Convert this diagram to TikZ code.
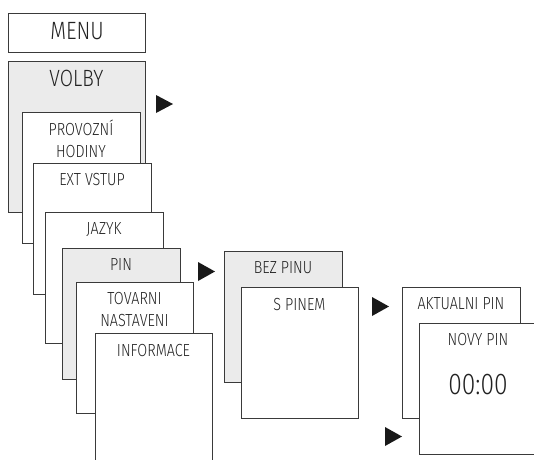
\documentclass[tikz,border=0pt]{standalone}
\usepackage{fontspec}
\setmainfont{Fira Sans Light}[FakeStretch=0.82]
\definecolor{boxline}{HTML}{3A3A3A}
\definecolor{boxgray}{HTML}{EBEBEB}
\definecolor{txt}{HTML}{222222}
\tikzset{
  menubox/.style={draw=boxline, line width=0.9pt, fill=white},
  graybox/.style={draw=boxline, line width=0.9pt, fill=boxgray},
  lbl/.style={anchor=base, text=txt, font=\fontsize{17.5}{20}\selectfont, inner sep=0pt},
  biglbl/.style={anchor=base, text=txt, font=\fontsize{25}{28}\selectfont, inner sep=0pt},
  clocklbl/.style={anchor=base, text=txt, font=\fontsize{30}{34}\selectfont, inner sep=0pt},
  tri/.style={fill=black!90, draw=none}
}
\begin{document}
\begin{tikzpicture}[x=1pt,y=-1pt]
\useasboundingbox (0,0) rectangle (534,459);
\clip (0,0) rectangle (534,459);
% MENU
\draw[menubox] (8,13) rectangle (145,52);
\node[biglbl] (menu) at (77,39) {MENU};
% VOLBY
\draw[graybox] (8,61) rectangle (145,212);
\node[biglbl, font=\fontsize{23.5}{26}\selectfont] (volby) at (76.5,86) {VOLBY};
\fill[tri] (156,95) -- (173,104) -- (156,113) -- cycle;
% PROVOZNI HODINY
\draw[menubox] (22,112) rectangle (140,243);
\node[lbl] (prov) at (81,135) {PROVOZNÍ};
\node[lbl] (hod) at (81,157) {HODINY};
% EXT VSTUP
\draw[menubox] (33,163) rectangle (151,294);
\node[lbl] (ext) at (92,185) {EXT VSTUP};
% JAZYK
\draw[menubox] (45,212) rectangle (163,343);
\node[lbl] (jaz) at (104,234) {JAZYK};
% PIN
\draw[graybox] (62,248) rectangle (180,379);
\node[lbl] (pin) at (121,270) {PIN};
\fill[tri] (198,262) -- (215,271.5) -- (198,281) -- cycle;
% TOVARNI NASTAVENI
\draw[menubox] (76,282) rectangle (193,413);
\node[lbl] (tov) at (134.5,304) {TOVARNI};
\node[lbl] (nas) at (134.5,326) {NASTAVENI};
% INFORMACE
\draw[menubox] (95,465) -- (95,333) -- (212,333) -- (212,465);
\fill[white] (95.5,333.5) rectangle (211.5,465);
\node[lbl] (inf) at (153.5,356) {INFORMACE};
% BEZ PINU
\draw[graybox] (224,251) rectangle (342,382);
\node[lbl] (bez) at (283,273) {BEZ PINU};
% S PINEM
\draw[menubox] (241,287) rectangle (358,418);
\node[lbl] (spin) at (299.5,310) {S PINEM};
\fill[tri] (372,297) -- (389,306.5) -- (372,316) -- cycle;
% AKTUALNI PIN
\draw[menubox] (402,287) rectangle (520,418);
\node[lbl] (akt) at (461,309) {AKTUALNI PIN};
% NOVY PIN
\draw[menubox] (540,323) -- (419,323) -- (419,454) -- (540,454);
\fill[white] (419.5,323.5) rectangle (540,453.5);
\node[lbl] (nov) at (478,345) {NOVY PIN};
\node[clocklbl] (clk) at (478,394) {00:00};
\fill[tri] (385,427) -- (402,436.5) -- (385,446) -- cycle;
\end{tikzpicture}
\end{document}
